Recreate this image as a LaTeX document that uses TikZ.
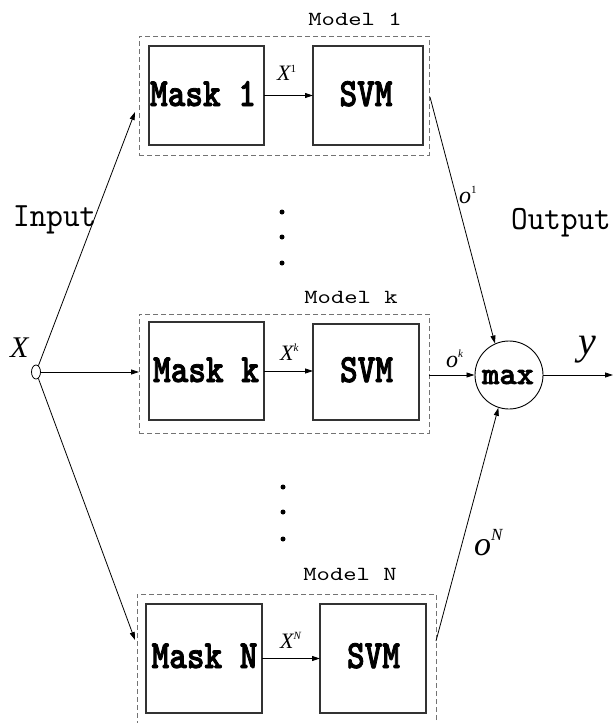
\documentclass[tikz,border=0pt]{standalone}
\usepackage{fontspec}
\usetikzlibrary{arrows.meta,shapes.geometric}
\newfontfamily\boxfnt{lmmonolt10-bold.otf}[FakeStretch=0.84,FakeBold=2]
\newfontfamily\maxfnt{lmmonolt10-bold.otf}[FakeStretch=1.03,FakeBold=2]
\newfontfamily\iofnt{lmmono10-regular.otf}[FakeStretch=0.93]
\newfontfamily\mdlfnt{lmmono10-regular.otf}[FakeStretch=1.27]
\newfontfamily\lblfnt{Liberation Serif}
\newcommand\lsup[2]{\raisebox{#1}{\fontsize{11}{11}\selectfont #2}}

\tikzset{
  model/.style={draw=black!55, line width=0.9pt, dash pattern=on 5pt off 3pt, inner sep=0pt, outer sep=0pt},
  unit/.style={draw=black!80, line width=1.1pt, inner sep=0pt, outer sep=0pt},
  arr/.style={-{Triangle[length=8pt,width=5pt]}, line width=0.8pt},
  boxtext/.style={anchor=base, inner sep=0pt, font=\boxfnt\fontsize{40}{40}\selectfont},
  maxtext/.style={anchor=base, inner sep=0pt, font=\maxfnt\fontsize{32}{32}\selectfont},
  mdltext/.style={anchor=base, inner sep=0pt, font=\mdlfnt\fontsize{20}{20}\selectfont},
  iotext/.style={anchor=base west, inner sep=0pt, font=\iofnt\fontsize{34}{34}\selectfont},
  lbl/.style={anchor=base west, inner sep=0pt, font=\lblfnt\itshape\fontsize{22}{22}\selectfont},
  dot/.style={circle, fill=black, inner sep=0pt, minimum size=5pt}
}

\begin{document}
\begin{tikzpicture}[x=1pt,y=-1pt]
\useasboundingbox (0,0) rectangle (613,723);

% ---- model 1 ----
\node[model, minimum width=290, minimum height=119] (m1) at (284,95.5) {};
\node[unit, minimum width=115, minimum height=99] (mask1) at (206.5,95.5) {};
\node[unit, minimum width=110, minimum height=99] (svm1) at (368,95.5) {};
\node[boxtext] (mask1t) at (203,106) {Mask 1};
\node[boxtext] (svm1t) at (366,106) {SVM};
\node[mdltext] (m1t) at (355,25) {Model 1};
\draw[arr] (mask1.east) -- (svm1.west);
\node[lbl] (x1) at (277,80) {X\lsup{8pt}{\upshape 1}};

% ---- model k ----
\node[model, minimum width=290, minimum height=119] (mk) at (284,373.5) {};
\node[unit, minimum width=115, minimum height=98] (maskk) at (206.5,371) {};
\node[unit, minimum width=106, minimum height=96] (svmk) at (366,372) {};
\node[boxtext] (maskkt) at (206,382) {Mask k};
\node[boxtext] (svmkt) at (366.5,382) {SVM};
\node[mdltext] (mkt) at (351,303) {Model k};
\draw[arr] (maskk.east) -- (maskk.east -| svmk.west);
\node[lbl] (xk) at (280,360) {X\lsup{9pt}{k}};

% ---- model N ----
\node[model, minimum width=299, minimum height=139] (mN) at (286.5,663.5) {};
\node[unit, minimum width=116, minimum height=109] (maskN) at (204,658.5) {};
\node[unit, minimum width=106, minimum height=109] (svmN) at (373,658.5) {};
\node[boxtext] (maskNt) at (204.5,668) {Mask N};
\node[boxtext] (svmNt) at (373.5,668) {SVM};
\node[mdltext] (mNt) at (350,580) {Model N};
\draw[arr] (maskN.east) -- (svmN.west);
\node[lbl] (xN) at (280,648) {X\lsup{9pt}{N}};

% ---- ellipsis dots ----
\node[dot] (d1) at (282,212) {};
\node[dot] (d2) at (282,237) {};
\node[dot] (d3) at (282,263) {};
\node[dot] (d4) at (283,487) {};
\node[dot] (d5) at (283,512) {};
\node[dot] (d6) at (283,539) {};

% ---- input ----
\node[ellipse, draw, line width=0.8pt, minimum width=9pt, minimum height=14pt, inner sep=0pt] (xin) at (36,372) {};
\node[lbl, font=\lblfnt\itshape\fontsize{30}{30}\selectfont] (xlab) at (10,357) {X};
\node[iotext] (inlab) at (13,226) {Input};
\coordinate (in1) at (135,112);
\coordinate (inN) at (135,640);
\draw[arr] (xin) -- (in1);
\draw[arr] (xin) -- (xin -| mk.west);
\draw[arr] (xin) -- (inN);

% ---- max and output ----
\node[circle, draw, line width=0.9pt, minimum size=68pt, inner sep=0pt] (max) at (509,375) {};
\node[maxtext] (maxt) at (508,384) {max};
\coordinate (o1start) at (430,97);
\coordinate (oNstart) at (436,641);
\coordinate (yout) at (613,375);
\draw[arr] (o1start) -- (max.114);
\draw[arr] (mk.east |- max.west) -- (max.west);
\draw[arr] (oNstart) -- (max.252);
\draw[arr] (max.east) -- (yout);

\node[lbl, font=\lblfnt\itshape\fontsize{24}{24}\selectfont] (o1) at (459,203) {o\lsup{10pt}{\upshape 1}};
\node[lbl, font=\lblfnt\itshape\fontsize{24}{24}\selectfont] (ok) at (446,367) {o\lsup{10pt}{k}};
\node[lbl, font=\lblfnt\itshape\fontsize{34}{34}\selectfont] (oN) at (474,555) {o\lsup{15pt}{\fontsize{17}{17}\selectfont N}};
\node[lbl, font=\lblfnt\itshape\fontsize{40}{40}\selectfont] (ylab) at (578,354) {y};
\node[iotext] (outlab) at (511,229) {Output};
\end{tikzpicture}
\end{document}
